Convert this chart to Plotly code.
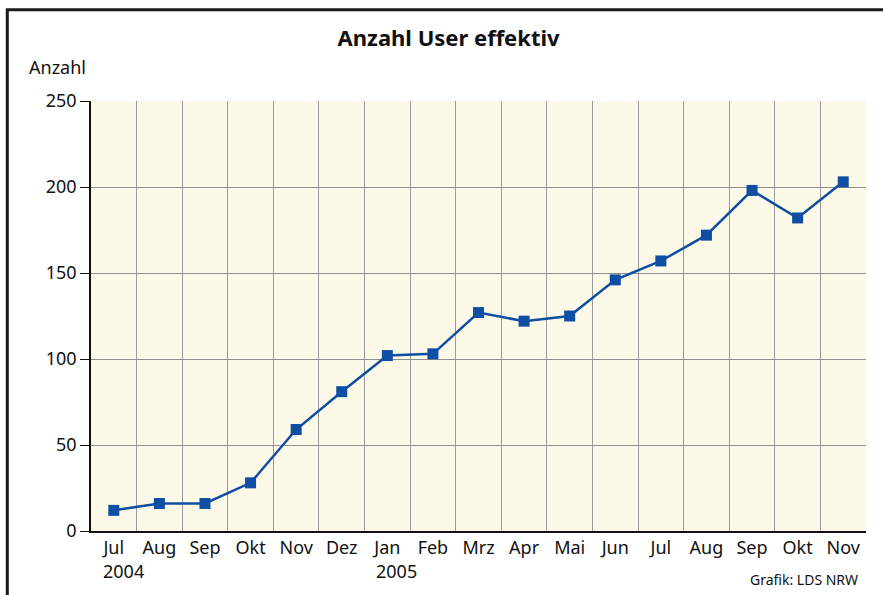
import plotly.graph_objects as go

months = ["Jul", "Aug", "Sep", "Okt", "Nov", "Dez", "Jan", "Feb", "Mrz",
          "Apr", "Mai", "Jun", "Jul", "Aug", "Sep", "Okt", "Nov"]
users = [12, 16, 16, 28, 59, 81, 102, 103, 127, 122, 125, 146, 157, 172, 198, 182, 203]
year_marks = {0: "2004", 6: "2005"}
y_ticks = [0, 50, 100, 150, 200, 250]

FONT = "Noto Sans, Open Sans, sans-serif"
LINE = "#0e4ea3"
pos = list(range(len(months)))

fig = go.Figure()
fig.add_trace(go.Scatter(
    x=pos, y=users, mode="lines+markers",
    line=dict(color=LINE, width=2.5),
    marker=dict(symbol="square", size=11, color=LINE),
    cliponaxis=False, hoverinfo="skip",
))

annotations = [
    dict(text="Anzahl", x=-0.083, y=1.079, xref="paper", yref="paper",
         xanchor="left", yanchor="middle", showarrow=False,
         font=dict(family=FONT, size=18, color="#111")),
    dict(text="Grafik: LDS NRW", x=0.992, y=-0.113, xref="paper", yref="paper",
         xanchor="right", yanchor="middle", showarrow=False,
         font=dict(family=FONT, size=14, color="#111")),
]
for i, yr in year_marks.items():
    annotations.append(dict(text=yr, x=i, y=-0.093, xref="x", yref="paper",
                            xanchor="left", yanchor="middle", xshift=-13,
                            showarrow=False,
                            font=dict(family=FONT, size=18, color="#111")))

fig.update_layout(
    width=883, height=595,
    margin=dict(l=91, r=17, t=101, b=64),
    paper_bgcolor="white",
    plot_bgcolor="#fdf9e8",
    showlegend=False,
    title=dict(text="<b>Anzahl User effektiv</b>", x=0.508, xanchor="center",
               y=0.936, yanchor="middle", xref="container", yref="container",
               font=dict(family=FONT, size=22, color="#111")),
    font=dict(family=FONT, size=18, color="#111"),
    xaxis=dict(
        range=[-0.5, len(months) - 0.5],
        tickmode="array", tickvals=pos, ticktext=months,
        showgrid=False, zeroline=False,
        showline=True, linecolor="#111", linewidth=1.5,
        ticks="", tickfont=dict(size=18),
        minor=dict(tickmode="linear", tick0=-0.5, dtick=1, showgrid=True,
                   gridcolor="#9b9b9b", gridwidth=1.2, ticks=""),
        fixedrange=True,
    ),
    yaxis=dict(
        range=[0, 250], tickmode="array", tickvals=y_ticks,
        showgrid=True, gridcolor="#8f8f8f", gridwidth=1,
        zeroline=False, showline=True, linecolor="#111", linewidth=1.5,
        ticks="outside", ticklen=9, tickcolor="#111", tickwidth=1.2,
        tickfont=dict(size=18),
        fixedrange=True,
    ),
    annotations=annotations,
    shapes=[dict(type="rect", xref="paper", yref="paper",
                 x0=-0.108, x1=1.2, y0=-0.3, y1=1.212,
                 line=dict(color="#1a1a1a", width=3), layer="above")],
)

fig.write_html("out.html")
